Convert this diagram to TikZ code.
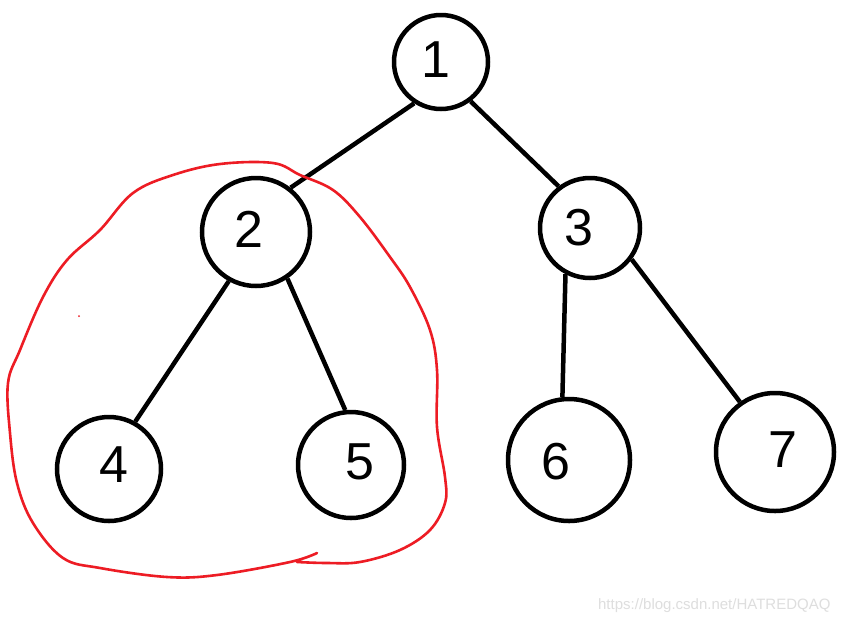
\documentclass[tikz,border=0pt]{standalone}
\usepackage{fontspec}
\setmainfont{Liberation Sans}
\definecolor{paintred}{RGB}{237,28,36}
\begin{document}
\begin{tikzpicture}[x=1pt,y=-1pt,
  treenode/.style={circle,draw=black,line width=4.5pt,inner sep=0pt},
  digit/.style={font=\fontsize{52}{52}\selectfont},
  edge/.style={line width=4.5pt,black},
  loop/.style={paintred,line width=2.6pt,line cap=round,line join=round}]
\useasboundingbox (0,0) rectangle (843,625);
\fill[white] (0,0) rectangle (843,625);
\node[treenode,minimum size=94pt] (n1) at (441,62) {};
\node[treenode,minimum size=108pt] (n2) at (256,232) {};
\node[treenode,minimum size=100pt] (n3) at (590,228) {};
\node[treenode,minimum size=104pt] (n4) at (109,469) {};
\node[treenode,minimum size=106pt] (n5) at (351,465) {};
\node[treenode,minimum size=122pt] (n6) at (569,460) {};
\node[treenode,minimum size=118pt] (n7) at (775,452) {};
\node[digit] (t1) at (436,60) {1};
\node[digit] (t2) at (249,229) {2};
\node[digit] (t3) at (579,228) {3};
\node[digit] (t4) at (114,465) {4};
\node[digit] (t5) at (360,462) {5};
\node[digit] (t6) at (556,462) {6};
\node[digit] (t7) at (783,450) {7};
\draw[edge] (n1.237) -- (n2.52);
\draw[edge] (n1.307) -- (n3.127);
\draw[edge] (n2.241) -- (n4.61);
\draw[edge] (n2.304) -- (n5.96);
\draw[edge] (n3.242) -- (n6.96);
\draw[edge] (n3.323) -- (n7.125);
\draw[loop] plot[smooth,tension=0.6] coordinates {
  (317,553) (290,562) (217,575) (167,577) (100,568) (63,558) (33,523)
  (17,483) (10,433) (8,383) (20,350) (43,297) (67,260) (100,230)
  (133,193) (173,175) (220,164) (273,163) (300,175) (333,190) (360,217)
  (390,257) (410,287) (430,330) (437,370) (437,427) (445,477) (445,503)
  (430,530) (400,550) (360,562) (327,563) (297,562)};
\fill[paintred] (79,316) circle (1pt);
\node[font=\fontsize{15}{15}\selectfont,text=black!13,anchor=east] (wm) at (834,606) {https://blog.csdn.net/HATREDQAQ};
\end{tikzpicture}
\end{document}
